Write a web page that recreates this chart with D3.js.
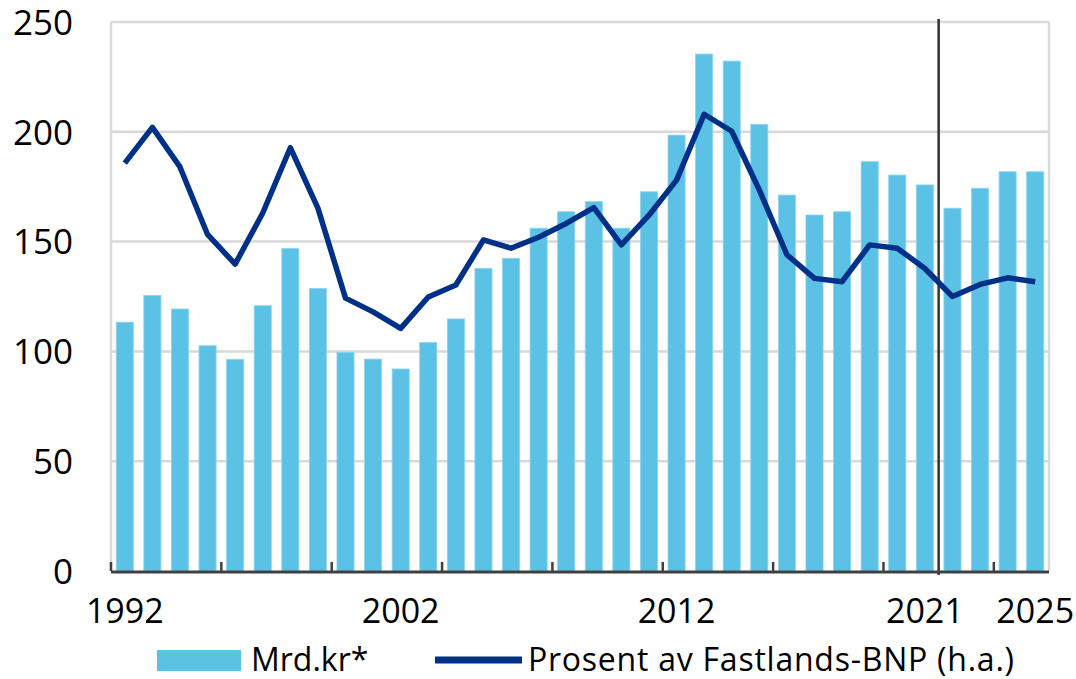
<!DOCTYPE html>
<html><head><meta charset="utf-8">
<script src="https://cdn.jsdelivr.net/npm/d3@7"></script>
<style>body{margin:0;background:#fff} text{font-family:"Open Sans",sans-serif;fill:#000}</style>
</head><body><svg id="c" width="1076" height="679"></svg>
<script>
const years = [1992,1993,1994,1995,1996,1997,1998,1999,2000,2001,2002,2003,2004,2005,2006,2007,2008,2009,2010,2011,2012,2013,2014,2015,2016,2017,2018,2019,2020,2021,2022,2023,2024,2025];
const mrdKr = [113.3,125.5,119.3,102.6,96.4,120.8,146.9,128.7,99.6,96.5,92.0,104.1,114.8,137.8,142.4,156.1,163.6,168.2,156.1,172.7,198.5,235.4,232.2,203.4,171.2,162.1,163.6,186.4,180.3,175.8,165.2,174.3,181.8,181.8];
const prosent = [7.43,8.08,7.36,6.13,5.59,6.52,7.71,6.61,4.97,4.72,4.42,4.99,5.21,6.03,5.88,6.08,6.33,6.62,5.94,6.48,7.12,8.32,8.01,6.94,5.76,5.33,5.27,5.94,5.88,5.51,5.00,5.22,5.34,5.27];
const yTicks = [0,50,100,150,200,250];
const xTickLabels = [1992,2002,2012,2021,2025];
const xTickMarkYears = [1992,1996,2000,2004,2008,2012,2016,2020,2024];
const splitYear = 2022;
const legendLabels = ["Mrd.kr*","Prosent av Fastlands-BNP (h.a.)"];

const svg = d3.select("#c");
const L=111, R=1049, T=22, B=571;
const x = d3.scaleBand().domain(years).range([L,R]).paddingInner(0.38).paddingOuter(0.19);
const y = d3.scaleLinear().domain([0,250]).range([B,T]);
const yR = d3.scaleLinear().domain([0,10]).range([B,T]);
const barColor = "#5bc2e6", lineColor = "#003087";
const bound = yr => x(yr) - x.step()*x.paddingInner()/2;

// gridlines
svg.append("g").selectAll("line").data(yTicks.filter(d=>d>0)).join("line")
  .attr("x1",L).attr("x2",R).attr("y1",d=>y(d)).attr("y2",d=>y(d))
  .attr("stroke","#d9d9d9").attr("stroke-width",2.5);
svg.append("line").attr("x1",L).attr("x2",L).attr("y1",T).attr("y2",B).attr("stroke","#d9d9d9").attr("stroke-width",2.5);
svg.append("line").attr("x1",R).attr("x2",R).attr("y1",T).attr("y2",B).attr("stroke","#d9d9d9").attr("stroke-width",2.5);

// y axis labels
const yAx = svg.append("g").attr("transform",`translate(${L},0)`).call(d3.axisLeft(y).tickValues(yTicks).tickSize(0).tickPadding(38));
yAx.select(".domain").remove();
yAx.selectAll("text").style("font-family","'Open Sans',sans-serif").style("font-size","35px").attr("fill","#000").attr("dy","0.35em");

// bars
svg.append("g").selectAll("rect").data(years).join("rect")
  .attr("x",d=>x(d)).attr("width",x.bandwidth())
  .attr("y",(d,i)=>y(mrdKr[i])).attr("height",(d,i)=>B-y(mrdKr[i]))
  .attr("fill",barColor).attr("stroke","#8fd4ee").attr("stroke-width",0.8);

// split line
svg.append("line").attr("x1",bound(splitYear)).attr("x2",bound(splitYear)).attr("y1",19).attr("y2",575)
  .attr("stroke","#333").attr("stroke-width",2.5);

// series line
const line = d3.line().x((d,i)=>x(years[i])+x.bandwidth()/2).y(d=>yR(d));
svg.append("path").datum(prosent).attr("d",line).attr("fill","none")
  .attr("stroke",lineColor).attr("stroke-width",5.5).attr("stroke-linejoin","round");

// x axis
svg.append("line").attr("x1",L).attr("x2",R).attr("y1",B+1).attr("y2",B+1).attr("stroke","#404040").attr("stroke-width",3);
svg.append("g").selectAll("line").data(xTickMarkYears).join("line")
  .attr("x1",d=>bound(d)).attr("x2",d=>bound(d)).attr("y1",B).attr("y2",B-9)
  .attr("stroke","#404040").attr("stroke-width",2.5);
const xAx = svg.append("g").attr("transform",`translate(0,${B})`).call(d3.axisBottom(x).tickValues(xTickLabels).tickSize(0).tickPadding(28));
xAx.select(".domain").remove();
xAx.selectAll("text").style("font-family","'Open Sans',sans-serif").style("font-size","34px").attr("fill","#000");

// legend
const lg = svg.append("g");
lg.append("rect").attr("x",157).attr("y",650).attr("width",84).attr("height",21).attr("fill",barColor);
lg.append("text").attr("x",251).attr("y",671).style("font-size","32px").text(legendLabels[0]);
lg.append("line").attr("x1",435).attr("x2",522).attr("y1",660).attr("y2",660).attr("stroke",lineColor).attr("stroke-width",7);
lg.append("text").attr("x",528).attr("y",671).style("font-size","32px")
  .attr("textLength",486).attr("lengthAdjust","spacing").text(legendLabels[1]);
</script></body></html>
